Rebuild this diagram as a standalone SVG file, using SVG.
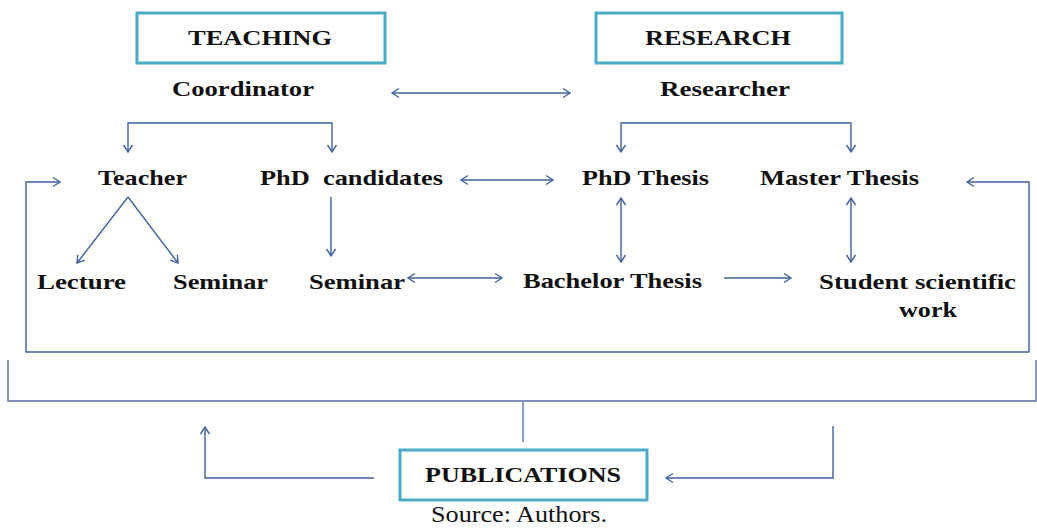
<svg xmlns="http://www.w3.org/2000/svg" width="1037" height="529" viewBox="0 0 1037 529">
<style>
.box{fill:#fff;stroke:#4bacc6;stroke-width:3}
.t{font-family:"Liberation Serif","Times New Roman",serif;font-weight:bold;font-size:22px;fill:#111}
.src{font-family:"Liberation Serif","Times New Roman",serif;font-size:24px;fill:#111}
.c{fill:none;stroke:#40609e;stroke-width:1.4}
.g{fill:none;stroke:#5a6ea2;stroke-width:1.4}
.l{fill:none;stroke:#8a9cc4;stroke-width:2}
</style>
<defs>
<marker id="a" markerUnits="userSpaceOnUse" markerWidth="12" markerHeight="12" refX="9" refY="6" orient="auto-start-reverse">
<path d="M2,1.5 L9,6 L2,10.5" fill="none" stroke="#40609e" stroke-width="1.4"/>
</marker>
</defs>
<rect width="1037" height="529" fill="#fff"/>
<g id="connectors">
<line class="c" x1="392" y1="93" x2="570" y2="93" marker-start="url(#a)" marker-end="url(#a)"/>
<path class="c" d="M128,152 V123 H332 V152" marker-start="url(#a)" marker-end="url(#a)"/>
<path class="c" d="M621,152 V123 H851 V152" marker-start="url(#a)" marker-end="url(#a)"/>
<path class="c" d="M60,182 H26 V352 H1029 V182 H967" marker-start="url(#a)" marker-end="url(#a)"/>
<line class="c" x1="461" y1="180" x2="553" y2="180" marker-start="url(#a)" marker-end="url(#a)"/>
<line class="c" x1="128" y1="197" x2="77" y2="263" marker-end="url(#a)"/>
<line class="c" x1="128" y1="197" x2="178" y2="263" marker-end="url(#a)"/>
<line class="c" x1="331" y1="197" x2="331" y2="256" marker-end="url(#a)"/>
<line class="c" x1="408" y1="278" x2="502" y2="278" marker-start="url(#a)" marker-end="url(#a)"/>
<line class="c" x1="724" y1="278" x2="791" y2="278" marker-end="url(#a)"/>
<line class="c" x1="621" y1="198" x2="621" y2="262" marker-start="url(#a)" marker-end="url(#a)"/>
<line class="c" x1="851" y1="198" x2="851" y2="262" marker-start="url(#a)" marker-end="url(#a)"/>
<path class="g" d="M8,360 V401 H1036 V360"/>
<line class="l" x1="523" y1="401" x2="523" y2="442"/>
<path class="c" d="M374,478 H205 V427" marker-end="url(#a)"/>
<path class="c" d="M833,426 V478 H666" marker-end="url(#a)"/>
</g>
<g id="teaching">
<rect class="box" x="137" y="13" width="248" height="50"/>
<text class="t" x="188" y="45" textLength="144" lengthAdjust="spacingAndGlyphs">TEACHING</text>
</g>
<g id="research">
<rect class="box" x="596" y="13" width="246" height="50"/>
<text class="t" x="645" y="45" textLength="146" lengthAdjust="spacingAndGlyphs">RESEARCH</text>
</g>
<g id="coordinator"><text class="t" x="172" y="96" textLength="142" lengthAdjust="spacingAndGlyphs">Coordinator</text></g>
<g id="researcher"><text class="t" x="660" y="96" textLength="130" lengthAdjust="spacingAndGlyphs">Researcher</text></g>
<g id="teacher"><text class="t" x="98" y="185" textLength="89" lengthAdjust="spacingAndGlyphs">Teacher</text></g>
<g id="phd-candidates"><text class="t" x="260" y="185" textLength="183" lengthAdjust="spacingAndGlyphs" xml:space="preserve">PhD  candidates</text></g>
<g id="phd-thesis"><text class="t" x="582" y="185" textLength="127" lengthAdjust="spacingAndGlyphs">PhD Thesis</text></g>
<g id="master-thesis"><text class="t" x="760" y="185" textLength="159" lengthAdjust="spacingAndGlyphs">Master Thesis</text></g>
<g id="lecture"><text class="t" x="37" y="289" textLength="89" lengthAdjust="spacingAndGlyphs">Lecture</text></g>
<g id="seminar-1"><text class="t" x="173" y="289" textLength="95" lengthAdjust="spacingAndGlyphs">Seminar</text></g>
<g id="seminar-2"><text class="t" x="309" y="289" textLength="96" lengthAdjust="spacingAndGlyphs">Seminar</text></g>
<g id="bachelor-thesis"><text class="t" x="523" y="288" textLength="179" lengthAdjust="spacingAndGlyphs">Bachelor Thesis</text></g>
<g id="student-work">
<text class="t" x="819" y="289" textLength="197" lengthAdjust="spacingAndGlyphs">Student scientific</text>
<text class="t" x="899" y="317" textLength="58" lengthAdjust="spacingAndGlyphs">work</text>
</g>
<g id="publications">
<rect class="box" x="400" y="450" width="247" height="50"/>
<text class="t" x="425" y="482" font-size="21" textLength="196" lengthAdjust="spacingAndGlyphs">PUBLICATIONS</text>
</g>
<g id="source"><text class="src" x="431" y="522" textLength="176" lengthAdjust="spacingAndGlyphs">Source: Authors.</text></g>
</svg>
